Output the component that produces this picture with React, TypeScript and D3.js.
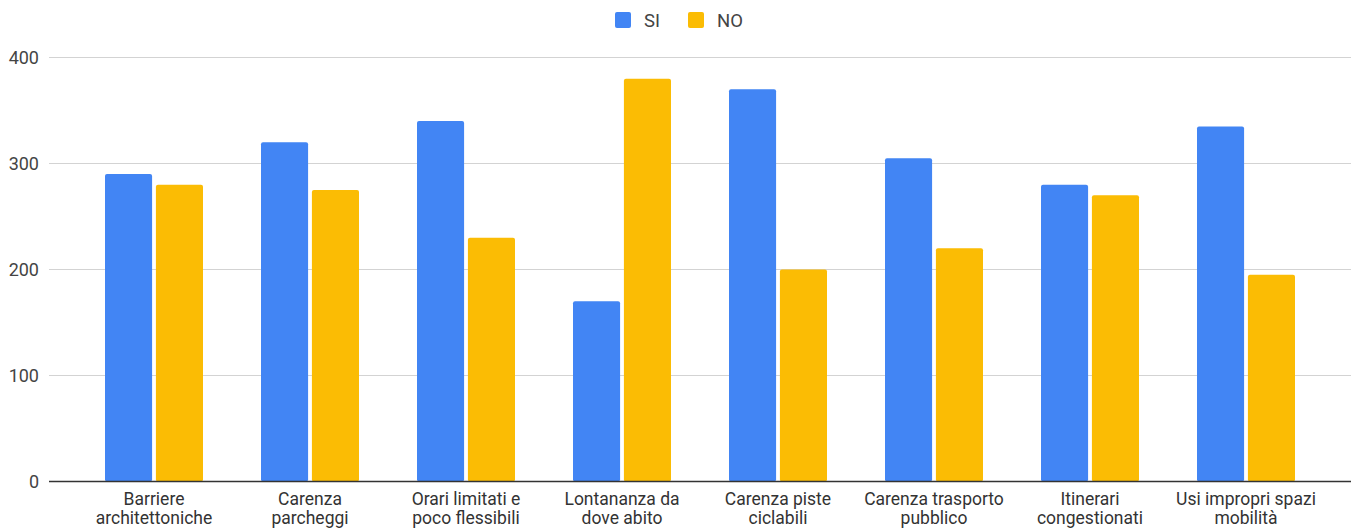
import React from "react";
import * as d3 from "d3";

const categories: string[][] = [
  ["Barriere", "architettoniche"],
  ["Carenza", "parcheggi"],
  ["Orari limitati e", "poco flessibili"],
  ["Lontananza da", "dove abito"],
  ["Carenza piste", "ciclabili"],
  ["Carenza trasporto", "pubblico"],
  ["Itinerari", "congestionati"],
  ["Usi impropri spazi", "mobilità"],
];
const siValues = [290, 320, 340, 170, 370, 305, 280, 335];
const noValues = [280, 275, 230, 380, 200, 220, 270, 195];
const seriesNames = ["SI", "NO"];
const seriesColors = ["#4285F4", "#FBBC04"];
const yTicks = [0, 100, 200, 300, 400];

const W = 1357;
const H = 529;
const FONT = "Roboto, Arial, sans-serif";

export default function App() {
  const keys = categories.map((c) => c.join(" "));
  const y = d3.scaleLinear().domain([0, 400]).range([481.5, 57.5]);
  const x0 = d3.scaleBand<string>().domain(keys).range([76, 1324]).paddingInner(0).paddingOuter(0);
  const step = x0.bandwidth();
  const x1 = d3
    .scaleBand<string>()
    .domain(seriesNames)
    .range([step / 2 - 49, step / 2 + 49])
    .paddingInner(0.075)
    .paddingOuter(0);
  const series = [siValues, noValues];

  return (
    <svg width={W} height={H} style={{ position: "absolute", left: 0, top: 0, background: "#fff" }}>
      {yTicks.map((t) => (
        <g key={t}>
          {t !== 0 && (
            <line x1={49} x2={1351} y1={y(t)} y2={y(t)} stroke="#d3d3d3" strokeWidth={1} />
          )}
          <text
            x={39}
            y={y(t)}
            dy="0.36em"
            textAnchor="end"
            fontFamily={FONT}
            fontSize={18}
            fill="#444"
          >
            {t}
          </text>
        </g>
      ))}
      {keys.map((k, i) => (
        <g key={k} transform={`translate(${x0(k)},0)`}>
          {series.map((vals, s) => (
            <rect
              key={s}
              x={x1(seriesNames[s])}
              y={y(vals[i])}
              width={x1.bandwidth()}
              height={y(0) - y(vals[i])}
              fill={seriesColors[s]}
              rx={2}
            />
          ))}
          <text
            x={step / 2}
            textAnchor="middle"
            fontFamily={FONT}
            fontSize={17.5}
            fill="#333"
          >
            {categories[i].map((line, li) => (
              <tspan key={li} x={step / 2} y={505 + li * 19}>
                {line}
              </tspan>
            ))}
          </text>
        </g>
      ))}
      <line x1={49} x2={1351} y1={y(0)} y2={y(0)} stroke="#333" strokeWidth={1.3} />
      {seriesNames.map((n, s) => {
        const lx = s === 0 ? 615 : 688;
        return (
          <g key={n}>
            <rect x={lx} y={12} width={16} height={16} rx={2} fill={seriesColors[s]} />
            <text x={lx + 29} y={20} dy="0.36em" fontFamily={FONT} fontSize={18.5} fill="#444">
              {n}
            </text>
          </g>
        );
      })}
    </svg>
  );
}
